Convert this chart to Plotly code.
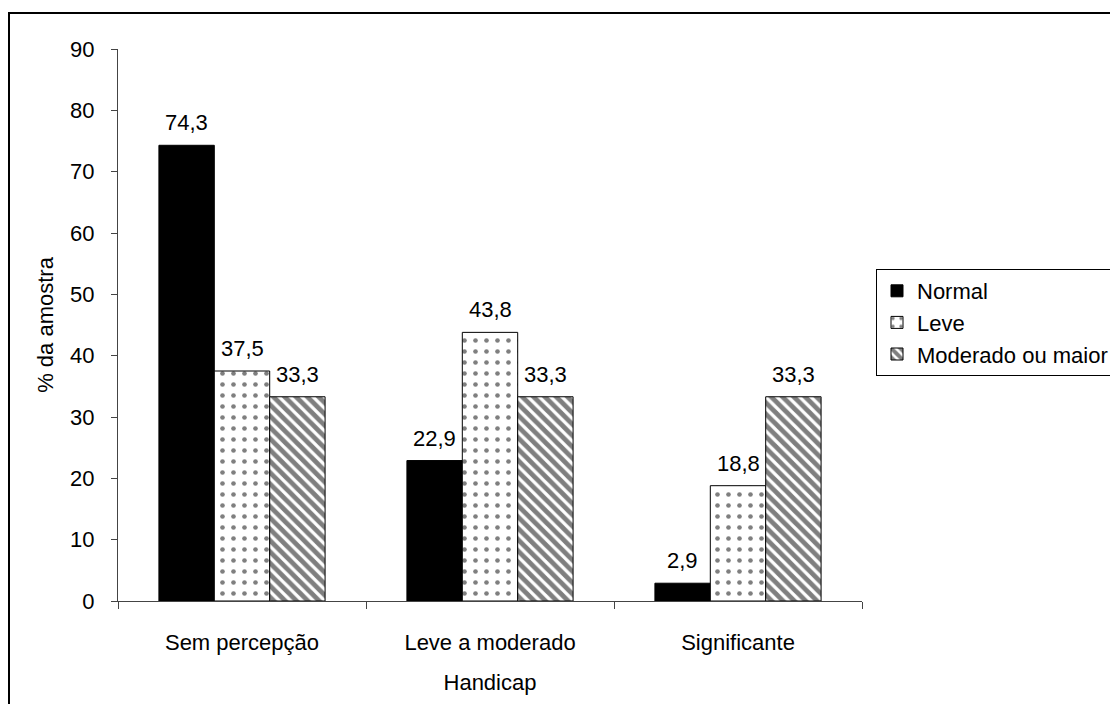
import plotly.graph_objects as go

# Handicap categories and share of the sample (%) per hearing group
categories = ["Sem percepção", "Leve a moderado", "Significante"]
series_names = ["Normal", "Leve", "Moderado ou maior"]
normal = [74.3, 22.9, 2.9]
leve = [37.5, 43.8, 18.8]
moderado = [33.3, 33.3, 33.3]
y_ticks = [0, 10, 20, 30, 40, 50, 60, 70, 80, 90]

FONT = "Liberation Sans, Arial, sans-serif"
FS = 22

W, H = 1110, 704
ML, MR, MT, MB = 118, 248, 49, 103
PW, PH = W - ML - MR, H - MT - MB
BARGAP = 0.33

styles = [
    dict(color="black", pattern=dict(shape="")),
    dict(color="white", pattern=dict(shape=".", fgcolor="black", bgcolor="white",
                                      size=11, solidity=0.14, fillmode="overlay")),
    dict(color="white", pattern=dict(shape="\\", fgcolor="black", bgcolor="white",
                                      size=8, solidity=0.6, fillmode="overlay")),
]

fig = go.Figure()
all_series = [normal, leve, moderado]
for i, (name, vals) in enumerate(zip(series_names, all_series)):
    fig.add_trace(go.Bar(
        x=categories, y=vals, name=name,
        marker=dict(color=styles[i]["color"], pattern=styles[i]["pattern"],
                    line=dict(color="black", width=1)),
        legendgroup=name,
    ))

# value labels above each bar, offset sideways to the bar's slot in its group
group_px = PW / len(categories)
bar_px = group_px * (1 - BARGAP) / len(all_series)
for i, vals in enumerate(all_series):
    shift = (i - (len(all_series) - 1) / 2) * bar_px
    for cat, v in zip(categories, vals):
        fig.add_annotation(
            x=cat, y=v, xref="x", yref="y", text=f"{v:.1f}".replace(".", ","),
            showarrow=False, xanchor="center", yanchor="bottom",
            xshift=shift, yshift=8,
            font=dict(family=FONT, size=FS, color="black"),
        )

# outer chart frame (extends past right and bottom edges)
def px_x(x):
    return (x - ML) / PW

def px_y(y):
    return 1 - (y - MT) / PH

fig.add_shape(type="rect", xref="paper", yref="paper",
              x0=px_x(9), x1=px_x(1130), y0=px_y(730), y1=px_y(13),
              line=dict(color="black", width=2), fillcolor="rgba(0,0,0,0)",
              layer="below")

fig.update_layout(
    width=W, height=H,
    margin=dict(l=ML, r=MR, t=MT, b=MB, pad=0, autoexpand=False),
    paper_bgcolor="white", plot_bgcolor="white",
    barmode="group", bargap=BARGAP, bargroupgap=0,
    font=dict(family=FONT, size=FS, color="black"),
    showlegend=True,
    legend=dict(
        x=px_x(876), xanchor="left", y=px_y(269), yanchor="top",
        bordercolor="black", borderwidth=1, bgcolor="white",
        font=dict(family=FONT, size=FS, color="black"),
        itemwidth=30, itemclick=False, tracegroupgap=0,
    ),
    xaxis=dict(
        title=dict(text="Handicap", font=dict(family=FONT, size=FS), standoff=20),
        showline=True, linecolor="#444", linewidth=1,
        ticks="outside", tickson="boundaries", ticklen=7, tickcolor="#444",
        ticklabelstandoff=22,
        showgrid=False, tickfont=dict(family=FONT, size=FS),
    ),
    yaxis=dict(
        title=dict(text="% da amostra", font=dict(family=FONT, size=FS), standoff=10),
        range=[0, 90], tickvals=y_ticks, ticktext=[str(v) for v in y_ticks],
        showline=True, linecolor="#444", linewidth=1,
        ticks="outside", ticklen=6, tickcolor="#444",
        ticklabelstandoff=12,
        showgrid=False, zeroline=False, tickfont=dict(family=FONT, size=FS),
    ),
)

fig.write_html("out.html")
